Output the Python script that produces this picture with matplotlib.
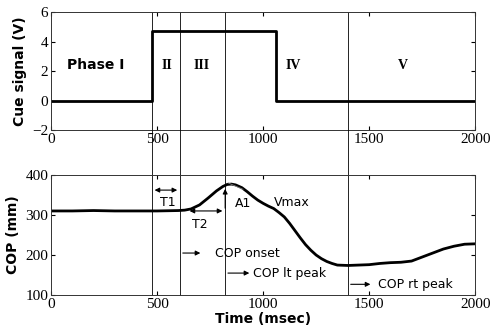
#Cue signal and COP time course

import numpy as np
import matplotlib.pyplot as plt

#_________INPUT data_______
cue_t = [0, 475, 475, 1060, 1060, 2000]
cue_v = [0, 0, 4.7, 4.7, 0, 0]

cop_t = [0, 100, 200, 300, 400, 500, 600, 630, 660, 700, 740, 780, 810, 830,
         850, 870, 900, 925, 950, 975, 1000, 1025, 1050, 1075, 1100, 1125,
         1150, 1175, 1200, 1225, 1250, 1275, 1300, 1325, 1350, 1400, 1450,
         1500, 1550, 1600, 1650, 1700, 1750, 1800, 1850, 1900, 1950, 2000]
cop_v = [310, 310, 311, 310, 310, 310, 311, 312, 315, 325, 342, 360, 371, 376,
         377, 375, 368, 358, 347, 337, 329, 322, 316, 306, 295, 279,
         261, 243, 226, 212, 200, 191, 184, 179, 175, 174, 175,
         176, 179, 181, 182, 185, 195, 205, 215, 222, 227, 228]

phase_lines = [475, 608, 821, 1400]
phase_names = ["Phase I", "II", "III", "IV", "V"]
phase_x = [208, 547, 712, 1142, 1660]

xticks = [0, 500, 1000, 1500, 2000]

#_________Figure Style_______________________
plt.rcParams["font.size"] = 11
plt.rcParams["font.family"] = "serif"
plt.rcParams["font.serif"] = "Liberation Serif"
plt.rcParams["xtick.direction"] = "in"
plt.rcParams["ytick.direction"] = "in"
plt.rcParams["axes.linewidth"] = 0.7
plt.rcParams["axes.edgecolor"] = "#333333"

fig = plt.figure(figsize=(4.96, 3.35), dpi=100)
ax1 = fig.add_axes([0.103, 0.612, 0.855, 0.352])
ax2 = fig.add_axes([0.103, 0.119, 0.855, 0.359])

#____________Plot: cue signal_______________________
ax1.plot(cue_t, cue_v, color="black", lw=2)
ax1.set_xlim(0, 2000)
ax1.set_ylim(-2, 6)
ax1.set_yticks([-2, 0, 2, 4, 6])
ax1.set_xticks(xticks)
ax1.tick_params(top=True, right=True, length=3, pad=2)
ax1.set_ylabel("Cue signal (V)", family="DejaVu Sans", weight="bold", fontsize=10)
for xp, name in zip(phase_x, phase_names):
    fam = "DejaVu Sans" if name.startswith("Phase") else "Liberation Serif"
    ax1.text(xp, 2.4, name, ha="center", va="center", family=fam,
             weight="bold", fontsize=10)
for xl in phase_lines:
    ax1.axvline(xl, color="black", lw=0.6)

#____________Plot: COP_______________________
ax2.plot(cop_t, cop_v, color="black", lw=2)
ax2.set_xlim(0, 2000)
ax2.set_ylim(100, 400)
ax2.set_yticks([100, 200, 300, 400])
ax2.set_xticks(xticks)
ax2.tick_params(top=True, right=True, length=3, pad=2)
ax2.set_ylabel("COP (mm)", family="DejaVu Sans", weight="bold", fontsize=10)
ax2.set_xlabel("Time (msec)", family="DejaVu Sans", weight="bold", fontsize=10, labelpad=1)
for xl in phase_lines:
    ax2.axvline(xl, ymin=0, ymax=1.375, color="black", lw=0.6, clip_on=False)

# tangent line (Vmax)
ax2.plot([835, 905], [380, 364], color="grey", lw=0.6)

sans = dict(family="DejaVu Sans", fontsize=9)
arr = dict(arrowstyle="-|>", color="black", lw=0.8, mutation_scale=7)
ax2.annotate("", xy=(475, 362), xytext=(608, 362),
             arrowprops=dict(arrowstyle="<|-|>", color="black", lw=0.8, mutation_scale=7))
ax2.text(552, 332, "T1", ha="center", va="center", **sans)
ax2.annotate("", xy=(640, 310), xytext=(821, 310),
             arrowprops=dict(arrowstyle="<|-|>", color="black", lw=0.8, mutation_scale=7))
ax2.text(703, 275, "T2", ha="center", va="center", **sans)
ax2.annotate("", xy=(821, 372), xytext=(821, 310), arrowprops=arr)
ax2.text(906, 328, "A1", ha="center", va="center", **sans)
ax2.text(1137, 332, "Vmax", ha="center", va="center", **sans)

ax2.annotate("", xy=(717, 205), xytext=(608, 205), arrowprops=arr)
ax2.text(774, 203, "COP onset", ha="left", va="center", **sans)
ax2.annotate("", xy=(948, 155), xytext=(821, 155), arrowprops=arr)
ax2.text(953, 153, "COP lt peak", ha="left", va="center", **sans)
ax2.annotate("", xy=(1519, 127), xytext=(1400, 127), arrowprops=arr)
ax2.text(1542, 127, "COP rt peak", ha="left", va="center", **sans)

fig.savefig("out.png", dpi=100)
